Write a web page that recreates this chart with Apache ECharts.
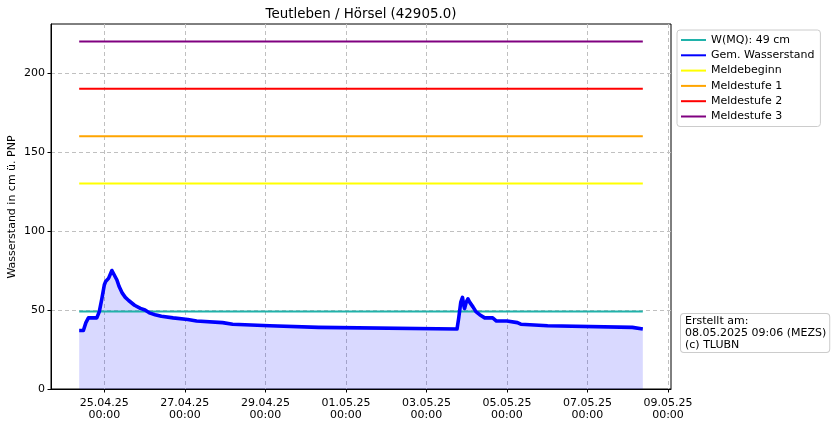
<!DOCTYPE html>
<html><head><meta charset="utf-8">
<script src="https://cdn.jsdelivr.net/npm/echarts@6/dist/echarts.min.js"></script>
<style>html,body{margin:0;padding:0;background:#fff}#c{width:834px;height:426px}</style>
</head><body><div id="c"></div>
<script>
const chartTitle = 'Teutleben / Hörsel (42905.0)';
const yAxisTitle = 'Wasserstand in cm ü. PNP';
const footnote = 'Erstellt am:\n08.05.2025 09:06 (MEZS)\n(c) TLUBN';

const levelName = 'Gem. Wasserstand';
const levelTimes = [
 '2025-04-24 09:00','2025-04-24 11:30','2025-04-24 13:00','2025-04-24 14:30','2025-04-24 19:30',
 '2025-04-24 21:00','2025-04-24 22:30','2025-04-25 00:00','2025-04-25 00:45','2025-04-25 02:30',
 '2025-04-25 04:30','2025-04-25 05:15','2025-04-25 07:30','2025-04-25 08:45','2025-04-25 10:30',
 '2025-04-25 12:30','2025-04-25 14:30','2025-04-25 18:00','2025-04-25 21:30','2025-04-26 00:15',
 '2025-04-26 03:15','2025-04-26 06:15','2025-04-26 10:00','2025-04-26 11:00','2025-04-26 17:00',
 '2025-04-26 17:15','2025-04-27 01:45','2025-04-27 02:00','2025-04-27 07:00','2025-04-27 07:15',
 '2025-04-27 22:30','2025-04-27 22:45','2025-04-28 04:30','2025-04-28 04:45','2025-04-29 02:30',
 '2025-04-29 02:45','2025-04-30 07:45','2025-04-30 08:00','2025-05-03 18:15','2025-05-03 19:15',
 '2025-05-03 20:30','2025-05-03 21:30','2025-05-03 22:15','2025-05-03 22:45','2025-05-03 23:45',
 '2025-05-04 00:45','2025-05-04 01:45','2025-05-04 03:45','2025-05-04 05:30','2025-05-04 07:45',
 '2025-05-04 10:45','2025-05-04 15:30','2025-05-04 16:30','2025-05-04 17:45','2025-05-05 00:00',
 '2025-05-05 00:15','2025-05-05 06:15','2025-05-05 06:30','2025-05-05 08:15','2025-05-05 08:30',
 '2025-05-06 00:15','2025-05-06 00:30','2025-05-08 02:45','2025-05-08 03:00','2025-05-08 09:00'
];
const levelValues = [
 37,37,42,45,45,
 49,57,66,68,70,
 75,74,69,65,61,
 58,56,53,51,50,
 48,47,46,45,45,
 44,44,43,43,42,
 42,41,41,40,40,
 39,39,38,38,45,
 55,58,53,51,55,
 57,55,52,49,47,
 45,45,44,43,43,
 42,42,41,41,40,
 40,39,39,38,38
];

const mqName = 'W(MQ): 49 cm';
const mqValue = 49;
const thresholdNames = ['Meldebeginn','Meldestufe 1','Meldestufe 2','Meldestufe 3'];
const thresholdValues = [130,160,190,220];

const xTickTimes = ['2025-04-25 00:00','2025-04-27 00:00','2025-04-29 00:00','2025-05-01 00:00',
                    '2025-05-03 00:00','2025-05-05 00:00','2025-05-07 00:00','2025-05-09 00:00'];
const yTicks = [0,50,100,150,200];

function toMs(s){
  const [d,t] = s.split(' ');
  const [Y,M,D] = d.split('-').map(Number);
  const [h,m] = t.split(':').map(Number);
  return new Date(Y,M-1,D,h,m).getTime();
}
function p2(n){return (n<10?'0':'')+n;}
function fmt(ms){
  const d = new Date(ms);
  return p2(d.getDate())+'.'+p2(d.getMonth()+1)+'.'+p2(d.getFullYear()%100)+'\n'+p2(d.getHours())+':'+p2(d.getMinutes());
}

const FONT = 'DejaVu Sans';
const levelData = levelTimes.map((t,i)=>[toMs(t), levelValues[i]]);
const tStart = toMs(levelTimes[0]), tEnd = toMs(levelTimes[levelTimes.length-1]);
const xTicks = xTickTimes.map(toMs);
const xMin = toMs('2025-04-23 16:12'), xMax = toMs('2025-05-09 01:48');

const thresholdColors = ['#ffff00','#ffa500','#ff0000','#800080'];

const series = [
  { name: 'fill', type: 'line', data: levelData, symbol: 'none', silent: true,
    lineStyle: { width: 0, opacity: 0 }, areaStyle: { color: 'rgba(0,0,255,0.15)', opacity: 1 } },
  { name: mqName, type: 'line', data: [[tStart, mqValue],[tEnd, mqValue]], symbol: 'none',
    lineStyle: { width: 2, color: '#20b2aa' }, itemStyle: { color: '#20b2aa' } },
  { name: levelName, type: 'line', data: levelData, symbol: 'none',
    lineStyle: { width: 3.6, color: '#0000ff', join: 'round' }, itemStyle: { color: '#0000ff' } }
];
thresholdNames.forEach((n,i)=>{
  series.push({ name: n, type: 'line', data: [[tStart, thresholdValues[i]],[tEnd, thresholdValues[i]]], symbol: 'none',
    lineStyle: { width: 2, color: thresholdColors[i] }, itemStyle: { color: thresholdColors[i] } });
});

const chart = echarts.init(document.getElementById('c'), null, { renderer: 'canvas' });
chart.setOption({
  animation: false,
  backgroundColor: '#fff',
  textStyle: { fontFamily: FONT },
  grid: { left: 51, top: 24, width: 620, height: 365, containLabel: false, outerBoundsMode: 'none',
          show: true, borderColor: '#000', borderWidth: 1, backgroundColor: 'transparent' },
  xAxis: {
    type: 'value', min: xMin, max: xMax,
    axisLine: { show: true, lineStyle: { color: '#000', width: 1 } },
    axisTick: { show: true, length: 3.5, lineStyle: { color: '#000' }, customValues: xTicks },
    axisLabel: { show: true, customValues: xTicks, formatter: v => fmt(v), color: '#000', fontSize: 11, fontFamily: FONT, lineHeight: 12, margin: 8 },
    splitLine: { show: true, lineStyle: { color: '#c0c0c0', type: [4,3], width: 1 } }
  },
  yAxis: {
    type: 'value', min: 0, max: 231,
    axisLine: { show: true, lineStyle: { color: '#000', width: 1 } },
    axisTick: { show: true, length: 3.5, lineStyle: { color: '#000' }, customValues: yTicks },
    axisLabel: { show: true, customValues: yTicks, color: '#000', fontSize: 11, fontFamily: FONT, margin: 6 },
    splitLine: { show: true, lineStyle: { color: '#c0c0c0', type: [4,3], width: 1 } }
  },
  legend: {
    orient: 'vertical', left: 677, top: 30,
    data: [mqName, levelName].concat(thresholdNames),
    backgroundColor: '#fff', borderColor: '#cccccc', borderWidth: 1, borderRadius: 3,
    padding: [4, 6, 4, 3], itemGap: 3.3, itemWidth: 25, itemHeight: 12,
    itemStyle: { opacity: 0 },
    textStyle: { color: '#000', fontSize: 11, fontFamily: FONT, lineHeight: 12 }
  },
  graphic: [
    { type: 'text', x: 361, y: 15, style: { text: chartTitle, font: '13.4px "DejaVu Sans"', fill: '#000', align: 'center', verticalAlign: 'middle' } },
    { type: 'text', x: 12, y: 207, rotation: Math.PI / 2, style: { text: yAxisTitle, font: '11px "DejaVu Sans"', fill: '#000', align: 'center', verticalAlign: 'middle' } },
    { type: 'text', left: 680, top: 313, style: { text: footnote, font: '11px "DejaVu Sans"', fill: '#000', lineHeight: 12,
        backgroundColor: '#fff', borderColor: '#cccccc', borderWidth: 1, borderRadius: 3, padding: [1, 3, 1, 4] } }
  ],
  series: series
});
</script></body></html>
